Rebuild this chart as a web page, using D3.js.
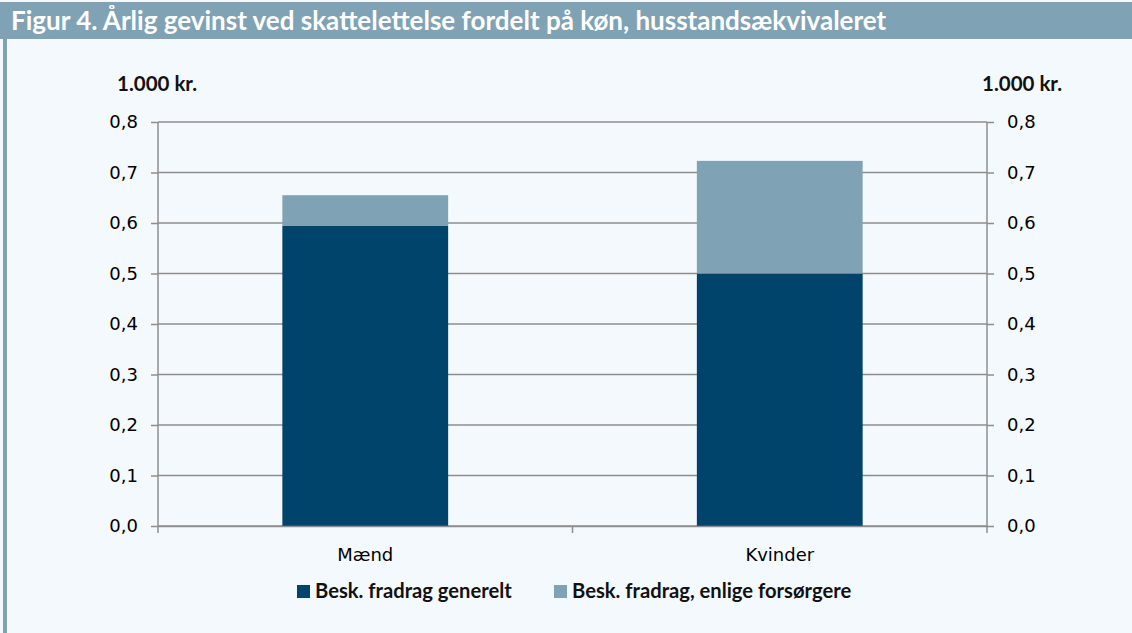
<!DOCTYPE html>
<html>
<head>
<meta charset="utf-8">
<script src="https://cdn.jsdelivr.net/npm/d3@7"></script>
<style>
  html, body { margin: 0; padding: 0; background: #f4f9fd; }
  svg { display: block; font-family: Lato, "Open Sans", sans-serif; }
</style>
</head>
<body>
<div id="chart"></div>
<script>
'use strict';

// categories and stacked series (1.000 kr.)
var categories = ['Mænd', 'Kvinder'];
var generelt = [0.595, 0.500];
var enlige = [0.060, 0.223];
var seriesNames = ['Besk. fradrag generelt', 'Besk. fradrag, enlige forsørgere'];
var yTicks = [0, 0.1, 0.2, 0.3, 0.4, 0.5, 0.6, 0.7, 0.8];

var width = 1132, height = 633;
var plot = { left: 158, right: 987, top: 122, bottom: 526 };
var colors = ['#00446b', '#7fa2b5'];
var tickFont = '"DejaVu Sans", sans-serif';

var svg = d3.select('#chart').append('svg')
  .attr('width', width)
  .attr('height', height);

// background, header, left stripe
svg.append('rect').attr('width', width).attr('height', height).attr('fill', '#f4f9fd');
svg.append('rect').attr('x', 0).attr('y', 2).attr('width', width).attr('height', 37).attr('fill', '#7fa2b5');
svg.append('rect').attr('x', 3).attr('y', 2).attr('width', 4).attr('height', height - 2).attr('fill', '#7fa2b5');

svg.append('text')
  .attr('x', 11)
  .attr('y', 30)
  .attr('fill', '#fff')
  .attr('font-size', 26)
  .attr('font-weight', 'bold')
  .text('Figur 4. Årlig gevinst ved skattelettelse fordelt på køn, husstandsækvivaleret');

var x = d3.scaleBand()
  .domain(categories)
  .range([plot.left, plot.right])
  .padding(0);

var y = d3.scaleLinear()
  .domain([0, 0.8])
  .range([plot.bottom, plot.top]);

var fmt = function(d) { return d3.format('.1f')(d).replace('.', ','); };

// gridlines
svg.append('g')
  .selectAll('line')
  .data(yTicks)
  .enter()
  .append('line')
  .attr('x1', plot.left)
  .attr('x2', plot.right)
  .attr('y1', function(d) { return y(d); })
  .attr('y2', function(d) { return y(d); })
  .attr('stroke', '#8e8e8e')
  .attr('stroke-width', 1.5);

// stacked bars
var rows = categories.map(function(c, i) {
  return { cat: c, generelt: generelt[i], enlige: enlige[i] };
});
var stack = d3.stack().keys(['generelt', 'enlige'])(rows);
var barW = x.bandwidth() * 0.4;

svg.append('g')
  .selectAll('g')
  .data(stack)
  .enter()
  .append('g')
  .attr('fill', function(d, i) { return colors[i]; })
  .selectAll('rect')
  .data(function(d) { return d; })
  .enter()
  .append('rect')
  .attr('x', function(d) { return x(d.data.cat) + (x.bandwidth() - barW) / 2; })
  .attr('width', barW)
  .attr('y', function(d) { return y(d[1]); })
  .attr('height', function(d) { return y(d[0]) - y(d[1]); });

// axes
var axisLeft = d3.axisLeft(y).tickValues(yTicks).tickFormat(fmt).tickSize(7).tickPadding(13);
var axisRight = d3.axisRight(y).tickValues(yTicks).tickFormat(fmt).tickSize(7).tickPadding(13);

function styleAxis(g) {
  g.select('.domain').attr('stroke', '#8e8e8e').attr('stroke-width', 1.5);
  g.selectAll('.tick line').attr('stroke', '#8e8e8e').attr('stroke-width', 1.5);
  g.selectAll('.tick text').attr('fill', '#000').attr('font-size', 18).attr('font-family', tickFont);
}

svg.append('g')
  .attr('transform', 'translate(' + plot.left + ',0)')
  .call(axisLeft)
  .call(function(g) { g.select('.domain').attr('d', 'M0,' + plot.top + 'V' + plot.bottom); })
  .call(styleAxis);

svg.append('g')
  .attr('transform', 'translate(' + plot.right + ',0)')
  .call(axisRight)
  .call(function(g) { g.select('.domain').attr('d', 'M0,' + plot.top + 'V' + plot.bottom); })
  .call(styleAxis);

// x axis: line at 0, ticks at band boundaries
var xAxis = d3.axisBottom(x).tickSize(0).tickPadding(22);
svg.append('g')
  .attr('transform', 'translate(0,' + plot.bottom + ')')
  .call(xAxis)
  .call(function(g) {
    g.select('.domain').attr('stroke', '#8e8e8e').attr('stroke-width', 1.5);
    g.selectAll('.tick text').attr('fill', '#000').attr('font-size', 18).attr('font-family', tickFont);
  });

var bounds = categories.map(function(c) { return x(c); }).concat([plot.right]);
svg.append('g')
  .selectAll('line')
  .data(bounds)
  .enter()
  .append('line')
  .attr('x1', function(d) { return d; })
  .attr('x2', function(d) { return d; })
  .attr('y1', plot.bottom)
  .attr('y2', plot.bottom + 7)
  .attr('stroke', '#8e8e8e')
  .attr('stroke-width', 1.5);

// unit labels
svg.append('text')
  .attr('x', 117).attr('y', 91)
  .attr('font-size', 20.5).attr('font-weight', 'bold').attr('fill', '#111')
  .text('1.000 kr.');
svg.append('text')
  .attr('x', 982).attr('y', 91)
  .attr('font-size', 20.5).attr('font-weight', 'bold').attr('fill', '#111')
  .text('1.000 kr.');

// legend
var legendX = [297, 554];
var legend = svg.append('g');
seriesNames.forEach(function(name, i) {
  legend.append('rect')
    .attr('x', legendX[i]).attr('y', 585)
    .attr('width', 13).attr('height', 13)
    .attr('fill', colors[i]);
  legend.append('text')
    .attr('x', legendX[i] + 18).attr('y', 598)
    .attr('font-size', 20.2).attr('font-weight', 'bold').attr('fill', '#111')
    .text(name);
});
</script>
</body>
</html>
